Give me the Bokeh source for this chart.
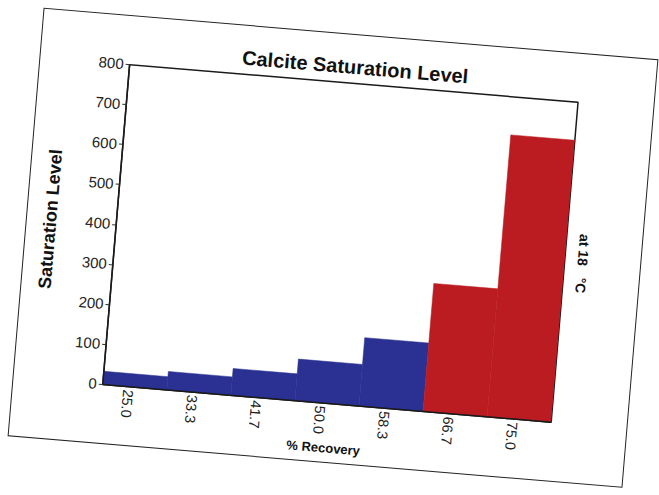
import math
from bokeh.plotting import figure
from bokeh.models import Range1d, FixedTicker, Title, ColumnDataSource
from bokeh.embed import file_html
from bokeh.resources import INLINE

# ---- data ----
recovery = ["25.0", "33.3", "41.7", "50.0", "58.3", "66.7", "75.0"]
saturation = [33, 46, 67, 104, 171, 320, 705]
bar_colors = ["#2a3192", "#2a3192", "#2a3192", "#2a3192", "#2a3192", "#ba1c21", "#ba1c21"]
y_ticks = [0, 100, 200, 300, 400, 500, 600, 700, 800]

FONT = "Liberation Sans"

# bars sit on a numeric index axis (one unit per recovery step)
idx = list(range(len(recovery)))
centers = [i + 0.5 for i in idx]
label_pos = [i + 0.4 for i in idx]

src = ColumnDataSource(dict(x=centers, top=saturation, color=bar_colors, label=recovery))

p = figure(x_range=Range1d(0, len(recovery)), y_range=Range1d(0, 800),
           frame_width=450, frame_height=321,
           min_border_left=89, min_border_right=76,
           min_border_top=48, min_border_bottom=59,
           output_backend="svg", toolbar_location=None,
           title="Calcite Saturation Level")

p.vbar(x="x", top="top", width=1.0, bottom=0, source=src,
       fill_color="color", line_color="color", line_width=0.5)

p.grid.visible = False
p.background_fill_color = "white"
p.border_fill_color = None
p.outline_line_color = "#1a1a1a"
p.outline_line_width = 1.5

p.title.align = "center"
p.title.text_font = FONT
p.title.text_font_size = "20px"
p.title.text_font_style = "bold"
p.title.text_color = "#111111"
p.title.standoff = 11

p.add_layout(Title(text="at 18\u00a0\u00a0\u00a0°C", align="center", text_font=FONT,
                   text_font_size="14px", text_font_style="bold",
                   text_color="#111111", standoff=20), "right")

ya = p.yaxis[0]
ya.ticker = FixedTicker(ticks=y_ticks)
ya.minor_tick_line_color = None
ya.major_tick_out = 4
ya.major_tick_in = 0
ya.major_label_standoff = 2
ya.major_label_text_font = FONT
ya.major_label_text_font_size = "15px"
ya.major_label_text_color = "#222222"
ya.axis_line_color = "#1a1a1a"
ya.axis_line_width = 1.5
ya.major_tick_line_color = "#333333"
ya.axis_label = "Saturation Level"
ya.axis_label_text_font = FONT
ya.axis_label_text_font_size = "18px"
ya.axis_label_text_font_style = "bold"
ya.axis_label_text_color = "#111111"
ya.axis_label_standoff = 22

xa = p.xaxis[0]
xa.ticker = FixedTicker(ticks=label_pos)
xa.major_label_overrides = {pos: lab for pos, lab in zip(label_pos, recovery)}
xa.major_tick_line_color = None
xa.minor_tick_line_color = None
xa.major_tick_out = 0
xa.major_tick_in = 0
xa.major_label_orientation = -math.pi / 2
xa.major_label_standoff = 3
xa.major_label_text_font = FONT
xa.major_label_text_font_size = "14.5px"
xa.major_label_text_color = "#222222"
xa.axis_line_color = "#1a1a1a"
xa.axis_line_width = 1.5
xa.axis_label = "% Recovery"
xa.axis_label_text_font = FONT
xa.axis_label_text_font_size = "13px"
xa.axis_label_text_font_style = "bold"
xa.axis_label_text_color = "#111111"
xa.axis_label_standoff = 3

p.styles = {
    "width": "615px",
    "height": "428px",
    "box-sizing": "border-box",
    "transform": "translate(25.5px, 33.8px) rotate(4.8deg)",
    "transform-origin": "50% 50%",
    "outline": "1.5px solid #222222",
    "background-color": "white",
}

open("out.html", "w").write(file_html(p, INLINE))
